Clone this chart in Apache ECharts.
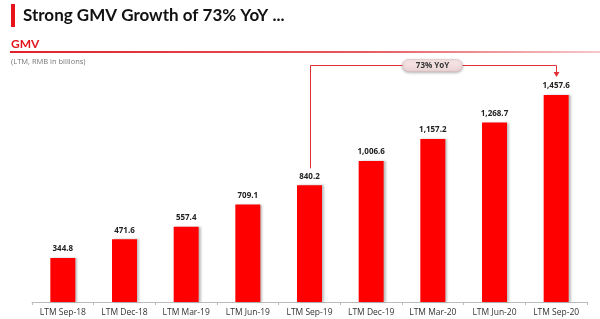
<!DOCTYPE html>
<html><head><meta charset="utf-8">
<script src="https://cdn.jsdelivr.net/npm/echarts@6/dist/echarts.min.js"></script>
<style>html,body{margin:0;padding:0;background:#fff}#c{width:600px;height:319px}</style>
</head><body><div id="c"></div>
<script>
const categories = ['LTM Sep-18','LTM Dec-18','LTM Mar-19','LTM Jun-19','LTM Sep-19','LTM Dec-19','LTM Mar-20','LTM Jun-20','LTM Sep-20'];
const gmv = [344.8, 471.6, 557.4, 709.1, 840.2, 1006.6, 1157.2, 1268.7, 1457.6];
const titleText = 'Strong GMV Growth of 73% YoY ...';
const sectionText = 'GMV';
const unitText = '(LTM, RMB in billions)';
const yoyText = '73% YoY';
const yoyFrom = 4, yoyTo = 8;

const chart = echarts.init(document.getElementById('c'), null, {renderer:'canvas'});
const fmt = v => v.toLocaleString('en-US',{minimumFractionDigits:1,maximumFractionDigits:1});
const baseGraphic = [
  {type:'rect', shape:{x:11,y:4,width:4,height:23}, style:{fill:'#e8141c'}},
  {type:'text', x:23, y:7, style:{text:titleText, font:'bold 17px Lato, "Open Sans", sans-serif', fill:'#111'}},
  {type:'text', x:11, y:38, style:{text:sectionText, font:'bold 12px Lato, sans-serif', fill:'#e3141c'}},
  {type:'rect', shape:{x:10,y:51,width:590,height:2}, style:{fill:new echarts.graphic.LinearGradient(0,0,1,0,[{offset:0,color:'#e0202a'},{offset:0.6,color:'#e55a60'},{offset:1,color:'#f6c8ca'}])}},
  {type:'text', x:11, y:58, style:{text:unitText, font:'7.5px "Open Sans", sans-serif', fill:'#777'}}
];
chart.setOption({
  animation:false,
  grid:{left:32, right:13, top:90, bottom:17},
  xAxis:{type:'category', data:categories,
    axisLine:{lineStyle:{color:'#bbb'}},
    axisTick:{show:true, length:3, lineStyle:{color:'#bbb'}},
    axisLabel:{color:'#333', fontSize:8.5, fontFamily:'"Open Sans", sans-serif', margin:6}},
  yAxis:{type:'value', min:44, max:1491, show:false, splitLine:{show:false}},
  series:[{type:'bar', data:gmv, barWidth:25,
    itemStyle:{color:'#ff0000', shadowColor:'rgba(0,0,0,0.25)', shadowOffsetX:2, shadowOffsetY:0, shadowBlur:2},
    label:{show:true, position:'top', formatter:p=>fmt(p.value), color:'#222', fontSize:8, fontWeight:'bold', fontFamily:'"Open Sans", sans-serif', distance:5}}],
  graphic: baseGraphic
});
const p1 = chart.convertToPixel({seriesIndex:0}, [yoyFrom, gmv[yoyFrom]]);
const p2 = chart.convertToPixel({seriesIndex:0}, [yoyTo, gmv[yoyTo]]);
const topY = Math.round(p2[1] - 30) + 0.5;
const x1 = Math.round(p1[0]) + 0.5, x2 = Math.round(p2[0]) + 0.5;
const lc = '#e03038';
const midX = (x1 + x2) / 2 - 1;
chart.setOption({graphic: baseGraphic.concat([
  {type:'polyline', shape:{points:[[x1,p1[1]-17],[x1,topY],[x2,topY],[x2,p2[1]-22]]}, style:{stroke:lc, lineWidth:1, fill:null}},
  {type:'polygon', shape:{points:[[x2-3,p2[1]-23],[x2+3,p2[1]-23],[x2,p2[1]-18]]}, style:{fill:lc}},
  {type:'rect', shape:{x:midX-30, y:topY-6, width:60, height:12, r:6},
    style:{fill:new echarts.graphic.LinearGradient(0,0,0,1,[{offset:0,color:'#fbe9ea'},{offset:1,color:'#e9d3d4'}]), stroke:'#ddb8ba', lineWidth:0.5, shadowColor:'rgba(0,0,0,0.3)', shadowBlur:3, shadowOffsetY:1}},
  {type:'text', x:midX, y:topY, style:{text:yoyText, font:'bold 8px "Open Sans", sans-serif', fill:'#333', align:'center', verticalAlign:'middle'}}
])});
</script></body></html>
